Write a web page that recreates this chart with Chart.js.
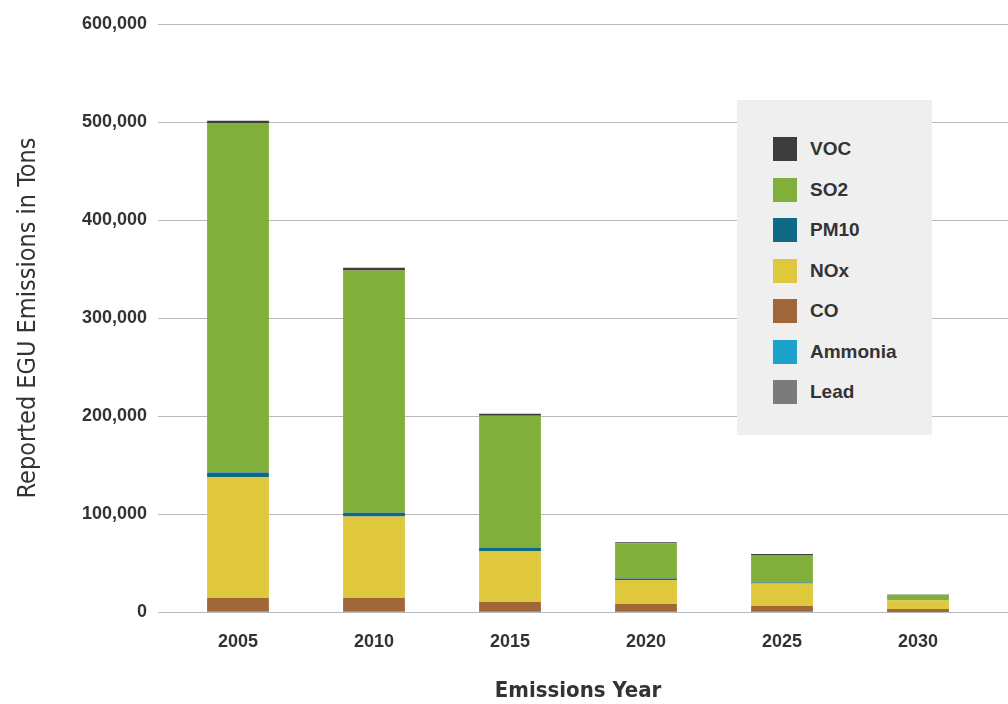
<!DOCTYPE html>
<html>
<head>
<meta charset="utf-8">
<script src="https://cdn.jsdelivr.net/npm/chart.js@4.4.1/dist/chart.umd.min.js"></script>
<style>
  html, body { margin: 0; padding: 0; background: #fff; }
  #wrap { position: relative; width: 1008px; height: 704px; }
  #legend {
    position: absolute; left: 737px; top: 100px; width: 195px; height: 335px;
    background: #efefef; box-sizing: border-box; padding: 29px 0 0 36px;
    font-family: "Liberation Sans", Arial, sans-serif; font-weight: bold; font-size: 19px; color: #333;
  }
  .item { display: flex; align-items: center; height: 40.5px; }
  .box { width: 24px; height: 24px; margin-right: 13px; }
</style>
</head>
<body>
<div id="wrap">
  <canvas id="chart" width="1008" height="704"></canvas>
  <div id="legend"></div>
</div>
<script>
// --- Данные (тонны) ---
const years = ['2005', '2010', '2015', '2020', '2025', '2030'];

const lead    = [100, 100, 100, 50, 50, 20];
const ammonia = [300, 300, 200, 100, 100, 50];
const co      = [14000, 14000, 10000, 8000, 6000, 3000];
const nox     = [123000, 83000, 52000, 24500, 23000, 9000];
const pm10    = [5000, 4000, 3000, 1500, 1000, 500];
const so2     = [356000, 247000, 135000, 36000, 28000, 5000];
const voc     = [3000, 3000, 2000, 1000, 1000, 300];

const yTicks = [0, 100000, 200000, 300000, 400000, 500000, 600000];

// порядок снизу вверх
const series = [
    { label: 'Lead',    data: lead,    color: '#7b7b7b' },
    { label: 'Ammonia', data: ammonia, color: '#1ba3c9' },
    { label: 'CO',      data: co,      color: '#a0683a' },
    { label: 'NOx',     data: nox,     color: '#e0c83c' },
    { label: 'PM10',    data: pm10,    color: '#0e6a85' },
    { label: 'SO2',     data: so2,     color: '#82ae3c' },
    { label: 'VOC',     data: voc,     color: '#3d3d3b' }
];

// --- Горизонтальные линии сетки на всю ширину ---
const gridPlugin = {
    id: 'fullGrid',
    beforeDatasetsDraw(chart) {
        const y = chart.scales.y;
        const c = chart.ctx;
        c.save();
        c.strokeStyle = '#b9b9b9';
        c.lineWidth = 1;
        y.ticks.forEach(t => {
            const py = Math.round(y.getPixelForValue(t.value)) + 0.5;
            c.beginPath();
            c.moveTo(chart.chartArea.left - 12, py);
            c.lineTo(chart.width, py);
            c.stroke();
        });
        c.restore();
    }
};

const ctx = document.getElementById('chart').getContext('2d');
const chart = new Chart(ctx, {
    type: 'bar',
    data: {
        labels: years,
        datasets: series.map(s => ({
            label: s.label,
            data: s.data,
            backgroundColor: s.color,
            borderWidth: 0,
            barPercentage: 0.9,
            categoryPercentage: 0.505
        }))
    },
    options: {
        responsive: false,
        animation: false,
        layout: { padding: { top: 24, right: 22, bottom: 0, left: 0 } },
        plugins: {
            legend: { display: false },
            tooltip: { enabled: false }
        },
        scales: {
            x: {
                stacked: true,
                grid: { display: false },
                border: { display: false },
                ticks: {
                    color: '#333',
                    font: { family: 'Liberation Sans', weight: 'bold', size: 18 },
                    padding: 11
                },
                title: {
                    display: true,
                    text: 'Emissions Year',
                    color: '#333',
                    font: { family: '"Liberation Sans Narrow", "DejaVu Sans Condensed", sans-serif', weight: 'bold', size: 22 },
                    padding: { top: 0, bottom: 0 }
                },
                afterFit(scale) { scale.height = 92; }
            },
            y: {
                stacked: true,
                min: 0,
                max: 600000,
                afterBuildTicks(scale) { scale.ticks = yTicks.map(v => ({ value: v })); },
                grid: { display: false },
                border: { display: false },
                ticks: {
                    color: '#333',
                    font: { family: 'Liberation Sans', weight: 'bold', size: 18 },
                    padding: 15,
                    callback: v => v.toLocaleString('en-US')
                },
                title: {
                    display: true,
                    text: 'Reported EGU Emissions in Tons',
                    color: '#333',
                    font: { family: '"Liberation Sans Narrow", "DejaVu Sans Condensed", sans-serif', size: 25 },
                    padding: { top: 13, bottom: 0 }
                },
                afterFit(scale) {
                    scale.width = 170;
                    scale.paddingTop = 0;
                    scale.paddingBottom = 0;
                }
            }
        }
    },
    plugins: [gridPlugin]
});

// --- Легенда (в обратном порядке, как на картинке) ---
const legendEl = document.getElementById('legend');
series.slice().reverse().forEach(s => {
    const row = document.createElement('div');
    row.className = 'item';
    row.innerHTML = `<div class="box" style="background:${s.color}"></div><div>${s.label}</div>`;
    legendEl.appendChild(row);
});
</script>
</body>
</html>
